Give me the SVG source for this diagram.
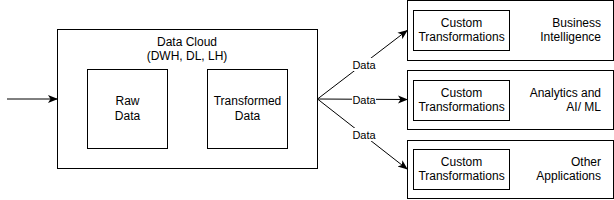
<svg xmlns="http://www.w3.org/2000/svg" width="614" height="200" viewBox="0 0 614 200">
<style>
.box{fill:#fff;stroke:#000;stroke-width:1}
.t{font-family:"Liberation Sans",Arial,sans-serif;font-size:12px;fill:#000}
.c{text-anchor:middle}
.r{text-anchor:end}
.lbl{font-family:"Liberation Sans",Arial,sans-serif;font-size:11px;fill:#000;text-anchor:middle}
.edge{stroke:#000;stroke-width:1;fill:none;marker-end:url(#ah)}
</style>
<defs>
<marker id="ah" viewBox="0 0 10 10" refX="9" refY="5" markerWidth="10" markerHeight="10" markerUnits="userSpaceOnUse" orient="auto">
<path d="M0,1 L10,5 L0,9 L2.5,5 Z" fill="#000"/>
</marker>
</defs>
<rect width="614" height="200" fill="#fff"/>
<g id="datacloud">
<rect class="box" x="57.5" y="29.5" width="260" height="139"/>
<text class="t c" x="187" y="46">Data Cloud</text>
<text class="t c" x="187" y="60">(DWH, DL, LH)</text>
</g>
<g id="raw">
<rect class="box" x="87.5" y="69.5" width="80" height="79"/>
<text class="t c" x="127.5" y="105">Raw</text>
<text class="t c" x="127.5" y="120">Data</text>
</g>
<g id="transformed">
<rect class="box" x="207.5" y="69.5" width="80" height="79"/>
<text class="t c" x="247.5" y="105">Transformed</text>
<text class="t c" x="247.5" y="120">Data</text>
</g>
<g id="bi">
<rect class="box" x="407.5" y="0.5" width="206" height="60"/>
<rect class="box" x="413.5" y="10.5" width="96" height="40"/>
<text class="t c" x="461.5" y="27">Custom</text>
<text class="t c" x="461.5" y="41">Transformations</text>
<text class="t r" x="601" y="27">Business</text>
<text class="t r" x="601" y="41">Intelligence</text>
</g>
<g id="aiml">
<rect class="box" x="407.5" y="70.5" width="206" height="59"/>
<rect class="box" x="413.5" y="80.5" width="96" height="40"/>
<text class="t c" x="461.5" y="97">Custom</text>
<text class="t c" x="461.5" y="111">Transformations</text>
<text class="t r" x="601" y="97">Analytics and</text>
<text class="t r" x="601" y="111">AI/ ML</text>
</g>
<g id="other">
<rect class="box" x="407.5" y="140.5" width="206" height="58"/>
<rect class="box" x="413.5" y="149.5" width="96" height="40"/>
<text class="t c" x="461.5" y="166">Custom</text>
<text class="t c" x="461.5" y="180">Transformations</text>
<text class="t r" x="601" y="166">Other</text>
<text class="t r" x="601" y="180">Applications</text>
</g>
<g id="connectors">
<line class="edge" x1="7" y1="99" x2="57" y2="99"/>
<line class="edge" x1="317.5" y1="99" x2="407" y2="30.5"/>
<line class="edge" x1="317.5" y1="99" x2="407" y2="99.5"/>
<line class="edge" x1="317.5" y1="99" x2="407" y2="169"/>
<rect x="352" y="58" width="24" height="13" fill="#fff"/>
<text class="lbl" x="364" y="68.5">Data</text>
<rect x="352" y="93" width="24" height="13" fill="#fff"/>
<text class="lbl" x="364" y="103.5">Data</text>
<rect x="352" y="128" width="24" height="13" fill="#fff"/>
<text class="lbl" x="364" y="138.5">Data</text>
</g>
</svg>
